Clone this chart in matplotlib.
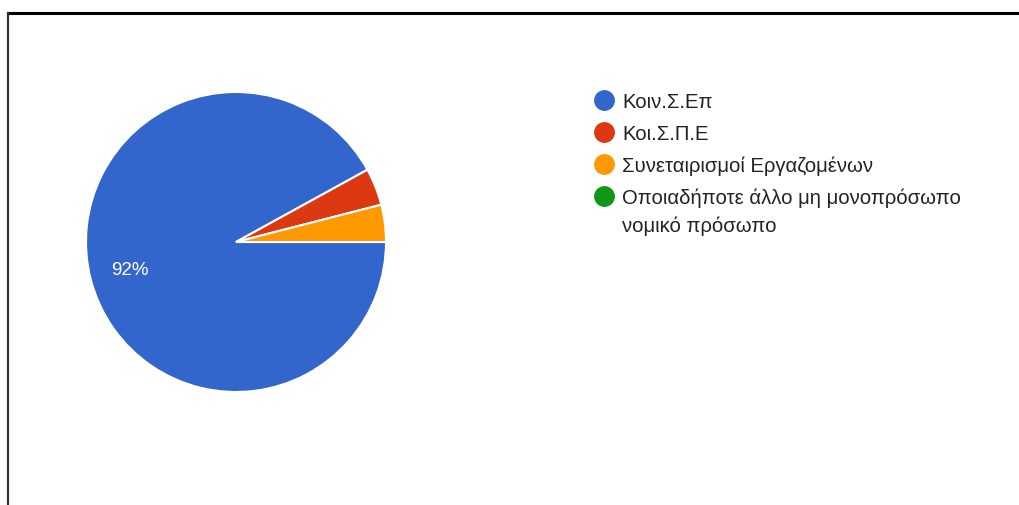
import matplotlib.pyplot as plt
from matplotlib.lines import Line2D

# --- data ---
labels = ["Κοιν.Σ.Επ", "Κοι.Σ.Π.Ε", "Συνεταιρισμοί Εργαζομένων",
          "Οποιαδήποτε άλλο μη μονοπρόσωπο\nνομικό πρόσωπο"]
counts = [23, 1, 1, 0]
colors = ["#3366cc", "#dc3912", "#ff9900", "#109618"]

W, H = 1019, 506
plt.rcParams['font.family'] = ['Liberation Sans', 'DejaVu Sans']

fig = plt.figure(figsize=(W / 100, H / 100), dpi=100)

# pie axes: centre (236, 243) px, radius 150 px
cx, cy, r = 236, 243, 150
ax = fig.add_axes([(cx - r) / W, (H - cy - r) / H, 2 * r / W, 2 * r / H])


def pct_label(p):
    return f"{p:.0f}%" if p > 5 else ""


vals = [c for c in counts if c > 0]
cols = [colors[i] for i, c in enumerate(counts) if c > 0]
wedges, texts, autotexts = ax.pie(
    vals, colors=cols, startangle=0, counterclock=False, radius=1,
    autopct=pct_label, pctdistance=0.73,
    wedgeprops=dict(edgecolor="white", linewidth=1.5),
    textprops=dict(color="white", fontsize=13.5))
ax.set_xlim(-1, 1)
ax.set_ylim(-1, 1)
ax.set_aspect("equal")
ax.axis("off")

# legend drawn by hand, Google-charts style
y = 101
for lab, col in zip(labels, colors):
    fig.add_artist(Line2D([604 / W], [1 - y / H], marker="o", markersize=14,
                          color=col, linestyle="none"))
    lines = lab.split("\n")
    for k, line in enumerate(lines):
        fig.text(622 / W, 1 - (y + 7 + 28 * k) / H, line, fontsize=14.6,
                 color="#222222", va="baseline", ha="left")
    y += 32 + 28 * (len(lines) - 1)

# screenshot frame edges
fig.add_artist(Line2D([8 / W, 1], [1 - 14 / H, 1 - 14 / H], color="black", linewidth=2.2))
fig.add_artist(Line2D([8 / W, 8 / W], [0, 1 - 14 / H], color="#333333", linewidth=1.6))

fig.savefig("out.png", dpi=100)
